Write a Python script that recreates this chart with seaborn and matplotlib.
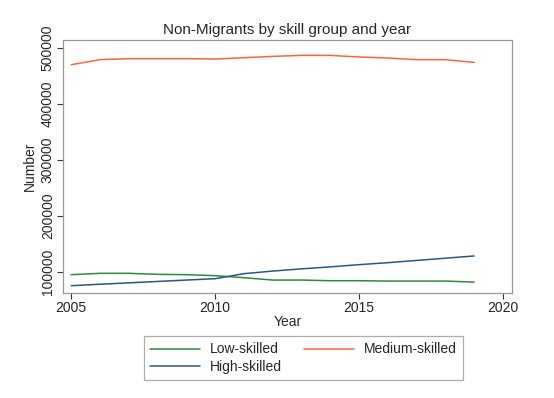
import numpy as np
import pandas as pd
import matplotlib
matplotlib.use("Agg")
import matplotlib.pyplot as plt
import seaborn as sns

years = list(range(2005, 2020))
low_skilled = [94600, 97000, 97000, 95200, 94600, 92800, 89200, 85000,
               85000, 83800, 83800, 83200, 83200, 83200, 81300]
medium_skilled = [469500, 478500, 480300, 480300, 480300, 479700, 482000, 484400,
                  486200, 486200, 483300, 481500, 478500, 478500, 473600]
high_skilled = [74900, 77500, 80000, 82500, 85000, 87400, 96400, 101000,
                105000, 108500, 112500, 116000, 120000, 124000, 128000]

groups = ["Low-skilled", "Medium-skilled", "High-skilled"]
colors = {"Low-skilled": "#2e8b3a", "Medium-skilled": "#ff6238", "High-skilled": "#2a558a"}

df = pd.DataFrame({
    "Year": years * 3,
    "Number": low_skilled + medium_skilled + high_skilled,
    "group": sum([[g] * len(years) for g in groups], []),
})

sns.set_style("white")
plt.rcParams["font.family"] = ["Liberation Sans", "DejaVu Sans"]

fig = plt.figure(figsize=(5.54, 3.98), dpi=100)
ax = fig.add_axes([0.114, 0.264, 0.81, 0.636])

sns.lineplot(data=df, x="Year", y="Number", hue="group", hue_order=groups,
             palette=colors, linewidth=1.1, ax=ax, legend=False)

ax.set_xlim(2004.72, 2020.31)
ax.set_ylim(62000, 514000)
ax.set_xticks([2005, 2010, 2015, 2020])
ax.set_yticks([100000, 200000, 300000, 400000, 500000])
ax.set_yticklabels(["100000", "200000", "300000", "400000", "500000"],
                   rotation=90, va="center")
ax.tick_params(axis="both", direction="out", length=4, width=0.8,
               labelsize=10, color="#333333", pad=2)
ax.tick_params(left=True, bottom=True)
for s in ax.spines.values():
    s.set_color("#999999")
    s.set_linewidth(0.9)

ax.set_xlabel("Year", fontsize=10, labelpad=0)
ax.set_ylabel("Number", fontsize=10, labelpad=3)
ax.set_title("Non-Migrants by skill group and year", fontsize=11, pad=4)

# row-major order like the original: Low, Medium / High
order = ["Low-skilled", "High-skilled", "Medium-skilled"]
handles = [plt.Line2D([], [], color=colors[g], lw=1.1) for g in order]
leg = fig.legend(handles, order, loc="center", bbox_to_anchor=(0.548, 0.1),
                 ncol=2, fontsize=10, frameon=True, fancybox=False,
                 edgecolor="#999999", handlelength=3.6, columnspacing=1.6,
                 handletextpad=0.7, labelspacing=0.25, borderpad=0.45)
leg.get_frame().set_linewidth(0.9)

fig.savefig("out.png", dpi=100)
